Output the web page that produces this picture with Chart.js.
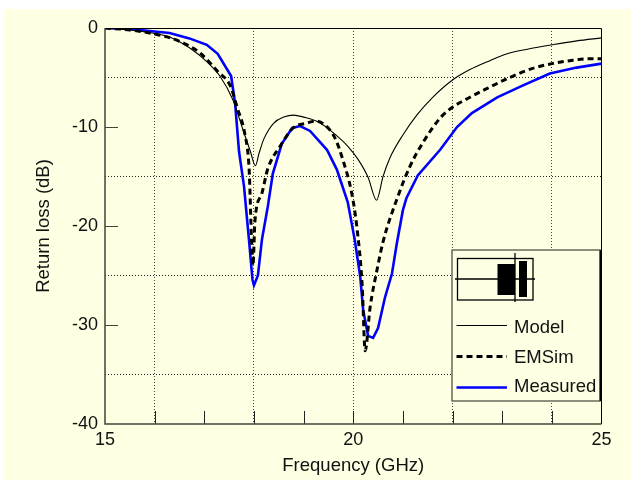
<!DOCTYPE html>
<html><head><meta charset="utf-8">
<script src="https://cdn.jsdelivr.net/npm/chart.js@4"></script>
<style>html,body{margin:0;padding:0;background:#fff}canvas{display:block}</style>
</head><body>
<div style="width:631px;height:480px"><canvas id="c" width="631" height="480"></canvas></div>
<script>
const modelFreq=[15,15.5,16,16.3,16.7,17.05,17.32,17.58,17.78,17.93,18.03,18.1,18.2,18.4,18.6,18.8,19,19.3,19.6,19.9,20.1,20.3,20.47,20.6,20.74,21,21.28,21.6,22,22.35,22.7,23.1,23.55,24,24.5,25];
const modelDb=[0,-0.2,-0.55,-0.9,-2,-3.4,-4.9,-7.3,-10.3,-12.5,-13.9,-12.7,-11.2,-9.6,-9,-8.8,-9,-9.5,-10.6,-12,-13.3,-15.1,-17.4,-15,-13.1,-10.8,-8.8,-7,-5.25,-4.2,-3.4,-2.6,-2.1,-1.7,-1.3,-1];
const emFreq=[15,15.5,16,16.25,16.57,16.91,17.27,17.52,17.66,17.82,17.9,17.98,18.02,18.16,18.28,18.52,18.79,19.07,19.23,19.43,19.63,19.79,19.97,20.07,20.18,20.24,20.34,20.48,20.6,20.9,21.14,21.4,21.75,22,22.35,22.7,23.15,23.6,24,24.36,24.77,25];
const emDb=[0,-0.2,-0.6,-0.9,-1.5,-2.5,-4.4,-5.8,-8,-10.8,-14,-24,-19.5,-16.7,-14.2,-12,-10.1,-9.6,-9.4,-9.8,-11.1,-13.3,-16.7,-20,-26,-32.6,-28.2,-24.4,-21.6,-17,-14,-11.6,-9.1,-8,-7,-6.1,-5,-4.1,-3.6,-3.3,-3.1,-3.1];
const measFreq=[15,15.5,15.9,16.3,16.7,17.05,17.27,17.54,17.62,17.7,17.8,17.9,17.97,18,18.08,18.16,18.28,18.38,18.56,18.77,18.93,19.13,19.47,19.67,19.89,20.03,20.14,20.2,20.3,20.4,20.5,20.64,20.78,20.88,21,21.07,21.3,21.75,22.09,22.39,22.9,23.42,23.96,24.5,25];
const measDb=[0,-0.1,-0.3,-0.5,-1.05,-1.7,-2.6,-4.85,-7.6,-12.5,-16,-21.4,-25.4,-26,-25,-21.4,-18,-14.7,-11.7,-10.1,-9.9,-10.4,-12.3,-14.3,-17.6,-21.4,-25.1,-28.5,-31.1,-31.3,-30.3,-27.2,-24.8,-21.7,-18.4,-17.2,-14.9,-12.3,-10,-8.6,-7,-5.8,-4.6,-4,-3.6];
const seriesNames=["Model","EMSim","Measured"];
const xLabels=[15,20,25];
const yLabels=[0,-10,-20,-30,-40];
const xGridAt=[16,18,20,22,24];
const yGridAt=[-5,-15,-25,-35];
const xTickMarks=[16,17,18,19,20,21,22,23,24];
const yTickMarks=[-10,-20,-30];

const CREAM="#ffffe3", FONT='"Liberation Sans", Arial, sans-serif', AXIS="#444438", FS=18;
const pts=(f,d)=>f.map((x,i)=>({x,y:d[i]}));

const frame={
  id:"frame",
  beforeDraw(ch){
    const c=ch.ctx;c.save();c.fillStyle=CREAM;c.fillRect(4,9,627,471);c.restore();
  },
  beforeDatasetsDraw(ch){
    const c=ch.ctx,a=ch.chartArea,X=ch.scales.x,Y=ch.scales.y;
    c.save();
    c.strokeStyle="#222";c.lineWidth=1;
    xTickMarks.forEach(v=>{const p=Math.round(X.getPixelForValue(v))+.5;c.beginPath();c.moveTo(p,a.bottom);c.lineTo(p,a.bottom-13);c.stroke();});
    c.strokeStyle=AXIS;
    yTickMarks.forEach(v=>{const p=Math.round(Y.getPixelForValue(v))+.5;c.beginPath();c.moveTo(a.left,p);c.lineTo(a.left+13,p);c.stroke();});
    c.restore();
  },
  afterDatasetsDraw(ch){
    const c=ch.ctx,a=ch.chartArea;
    c.save();
    c.strokeStyle="#000";c.lineWidth=1;
    c.beginPath();c.moveTo(a.left,a.top+.5);c.lineTo(a.right,a.top+.5);c.lineTo(a.right,a.bottom);c.stroke();
    c.strokeStyle=AXIS;c.lineWidth=1.5;
    c.beginPath();c.moveTo(a.left,a.top);c.lineTo(a.left,a.bottom);c.lineTo(a.right,a.bottom);c.stroke();
    // legend box
    c.fillStyle=CREAM;c.fillRect(452,250,148,151);
    c.strokeStyle=AXIS;c.lineWidth=1.2;c.strokeRect(452,250,148,151);
    c.strokeStyle="#000";c.lineWidth=1.6;c.beginPath();c.moveTo(600.5,250);c.lineTo(600.5,401);c.stroke();
    // inset schematic
    c.lineWidth=1.3;c.strokeStyle="#000";c.strokeRect(457.5,258.5,75.5,41.5);
    c.fillStyle="#000";c.fillRect(497.5,264,17.5,31);c.fillRect(519,261,8,36);
    c.beginPath();c.moveTo(455,279);c.lineTo(535,279);c.stroke();
    c.beginPath();c.moveTo(515,253);c.lineTo(515,302);c.stroke();
    // legend rows
    const ds=ch.data.datasets,ys=[325.5,356.5,387.5],ty=[327.5,357.5,387];
    ds.forEach((d,i)=>{
      c.strokeStyle=d.borderColor;c.lineWidth=d.borderWidth;c.setLineDash(d.borderDash||[]);
      c.beginPath();c.moveTo(456.5,ys[i]);c.lineTo(507,ys[i]);c.stroke();c.setLineDash([]);
      c.fillStyle="#111";c.font=(FS+.5)+"px "+FONT;c.textAlign="left";c.textBaseline="middle";
      c.fillText(seriesNames[i],514,ty[i]);
    });
    c.restore();
  }
};

new Chart(document.getElementById("c"),{
  type:"scatter",
  data:{datasets:[
    {label:seriesNames[0],data:pts(modelFreq,modelDb),showLine:true,borderColor:"#000",borderWidth:1.1,pointRadius:0,cubicInterpolationMode:"monotone"},
    {label:seriesNames[1],data:pts(emFreq,emDb),showLine:true,borderColor:"#000",borderWidth:3,borderDash:[6,4],pointRadius:0,cubicInterpolationMode:"monotone"},
    {label:seriesNames[2],data:pts(measFreq,measDb),showLine:true,borderColor:"#0000ff",borderWidth:2.6,pointRadius:0}
  ]},
  plugins:[frame],
  options:{
    responsive:false,animation:false,
    layout:{padding:{left:0,right:29.5,top:28,bottom:0}},
    plugins:{legend:{display:false},tooltip:{enabled:false}},
    scales:{
      x:{type:"linear",min:15,max:25,
        afterFit(s){s.height=56;},
        afterBuildTicks(s){s.ticks=[15,16,17,18,19,20,21,22,23,24,25].map(value=>({value}));},
        border:{display:false,dash:[1,2]},
        grid:{drawTicks:false,lineWidth:1,
          color:c=>xGridAt.includes(c.tick&&c.tick.value)?"#444":"rgba(0,0,0,0)"},
        ticks:{autoSkip:false,maxRotation:0,padding:5,color:"#111",font:{family:FONT,size:FS},
          callback:v=>xLabels.includes(v)?String(v):""},
        title:{display:true,text:"Frequency (GHz)",color:"#111",font:{family:FONT,size:FS+.5},padding:{top:0,bottom:3}}
      },
      y:{type:"linear",min:-40,max:0,
        afterFit(s){s.width=105;},
        afterBuildTicks(s){s.ticks=[0,-5,-10,-15,-20,-25,-30,-35,-40].map(value=>({value}));},
        border:{display:false,dash:[1,2]},
        grid:{drawTicks:false,lineWidth:1,
          color:c=>yGridAt.includes(c.tick&&c.tick.value)?"#222":"rgba(0,0,0,0)"},
        ticks:{autoSkip:false,padding:7,color:"#111",font:{family:FONT,size:FS},
          callback:v=>yLabels.includes(v)?String(v):""},
        title:{display:true,text:"Return loss (dB)",color:"#111",font:{family:FONT,size:FS+.5},padding:{top:33,bottom:0}}
      }
    }
  }
});
</script>
</body></html>
